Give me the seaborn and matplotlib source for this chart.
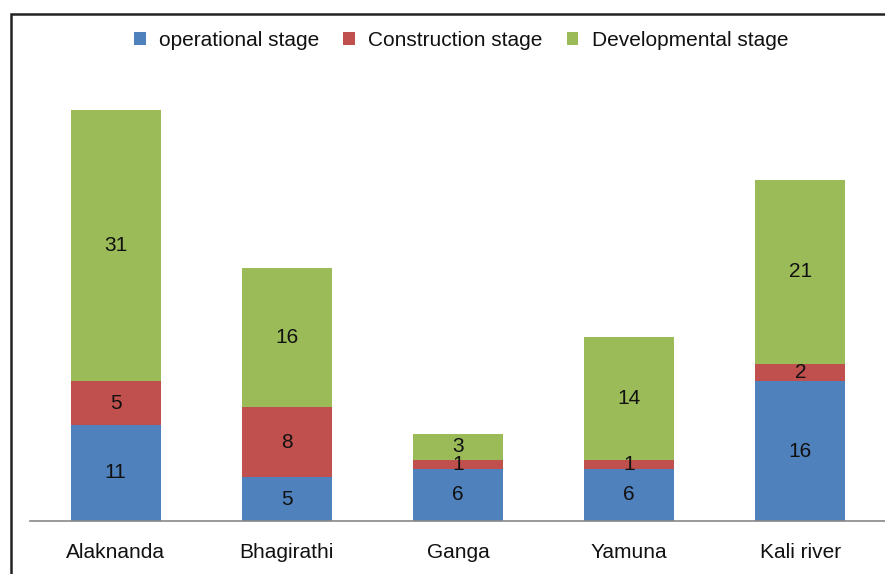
import matplotlib
matplotlib.use("Agg")
import matplotlib.pyplot as plt
from matplotlib.patches import Patch, Rectangle
import seaborn as sns
import pandas as pd

rivers = ["Alaknanda", "Bhagirathi", "Ganga", "Yamuna", "Kali river"]
operational = [11, 5, 6, 6, 16]
construction = [5, 8, 1, 1, 2]
developmental = [31, 16, 3, 14, 21]

stages = ["operational stage", "Construction stage", "Developmental stage"]
colors = ["#4F81BD", "#C0504D", "#9BBB59"]

sns.set_theme(style="white")
plt.rcParams["font.family"] = ["Liberation Sans", "DejaVu Sans"]

df = pd.DataFrame({"river": rivers, "op": operational,
                   "con": construction, "dev": developmental})
df["op_con"] = df["op"] + df["con"]
df["total"] = df["op_con"] + df["dev"]

fig = plt.figure(figsize=(8.85, 5.74), dpi=100)
ax = fig.add_axes([30 / 885, 53 / 574, 856 / 885, 437 / 574])

# stacked look: cumulative totals drawn over each other
bw = 0.525
sns.barplot(data=df, x="river", y="total", color=colors[2], width=bw,
            saturation=1, ax=ax, linewidth=0)
sns.barplot(data=df, x="river", y="op_con", color=colors[1], width=bw,
            saturation=1, ax=ax, linewidth=0)
sns.barplot(data=df, x="river", y="op", color=colors[0], width=bw,
            saturation=1, ax=ax, linewidth=0)

for i, r in df.iterrows():
    for bottom, v in [(0, r["op"]), (r["op"], r["con"]), (r["op_con"], r["dev"])]:
        ax.text(i, bottom + v / 2, str(v), ha="center", va="center",
                fontsize=15, color="#111111")

ax.set_xlim(-0.5, 4.5)
ax.set_ylim(0, 50)
ax.set_xlabel("")
ax.set_ylabel("")
ax.set_yticks([])
ax.tick_params(axis="x", labelsize=15, length=0, pad=16, colors="#111111")
for s in ["top", "right", "left"]:
    ax.spines[s].set_visible(False)
ax.spines["bottom"].set_color("#888888")
ax.spines["bottom"].set_linewidth(1.2)

handles = [Patch(facecolor=c, edgecolor="none", label=l) for c, l in zip(colors, stages)]
fig.legend(handles=handles, loc="center", bbox_to_anchor=(0.521, 0.93), ncol=3,
           frameon=False, fontsize=15, handlelength=0.55, handleheight=0.55,
           handletextpad=0.65, columnspacing=1.15, labelcolor="#111111")

fig.patches.append(Rectangle((10.5 / 885, -0.1), 1.2, 0.1 + 560.5 / 574,
                             transform=fig.transFigure, fill=False,
                             edgecolor="#222222", linewidth=1.8))

fig.savefig("out.png", dpi=100)
